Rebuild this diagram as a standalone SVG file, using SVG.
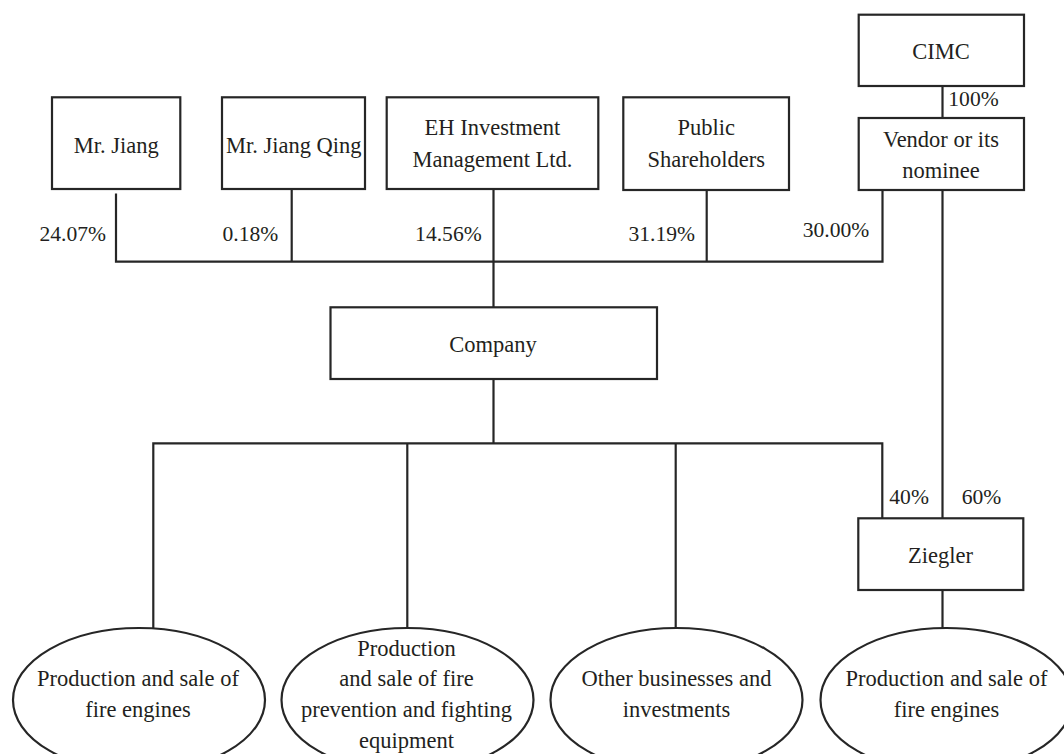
<svg xmlns="http://www.w3.org/2000/svg" width="1064" height="754" viewBox="0 0 1064 754">
<style>
.box{fill:#fff;stroke:#262626;stroke-width:2.2}
.ell{fill:#fff;stroke:#262626;stroke-width:2.2}
.ln{fill:none;stroke:#262626;stroke-width:2.2}
text{font-family:"Liberation Serif","Times New Roman",serif;fill:#231f20}
.lbl{font-size:22.5px;text-anchor:middle}
.pct{font-size:21.6px}
.end{text-anchor:end}
</style>
<rect width="1064" height="754" fill="#fff"/>
<g id="connectors">
<path class="ln" d="M116 193.5V261.7H882.5V190"/>
<path class="ln" d="M291.7 189V261.7"/>
<path class="ln" d="M493.5 189V307.5"/>
<path class="ln" d="M706.7 190V261.7"/>
<path class="ln" d="M942.5 86V118"/>
<path class="ln" d="M942.5 190V518.3"/>
<path class="ln" d="M493.5 379V443.3"/>
<path class="ln" d="M153.3 628.3V443.3H882.3V518.3"/>
<path class="ln" d="M407.3 443.3V628"/>
<path class="ln" d="M675.7 443.3V628"/>
<path class="ln" d="M942.5 590V628"/>
<text class="pct end" x="106" y="240.7">24.07%</text>
<text class="pct end" x="278.3" y="240.7">0.18%</text>
<text class="pct end" x="481.7" y="240.7">14.56%</text>
<text class="pct end" x="695" y="240.7">31.19%</text>
<text class="pct end" x="869.3" y="237.3">30.00%</text>
<text class="pct" x="948.3" y="106">100%</text>
<text class="pct" x="889.3" y="504">40%</text>
<text class="pct" x="961.7" y="504">60%</text>
</g>
<g id="mr-jiang">
<rect class="box" x="52" y="97.3" width="128.3" height="91.7"/>
<text class="lbl" x="116.3" y="152.7">Mr. Jiang</text>
</g>
<g id="mr-jiang-qing">
<rect class="box" x="222" y="97.3" width="143" height="91.7"/>
<text class="lbl" x="293.7" y="152.7">Mr. Jiang Qing</text>
</g>
<g id="eh-investment">
<rect class="box" x="386.7" y="97.3" width="211.6" height="91.7"/>
<text class="lbl" x="492.4" y="135">EH Investment</text>
<text class="lbl" x="492.4" y="166.7">Management Ltd.</text>
</g>
<g id="public-shareholders">
<rect class="box" x="623.3" y="97.3" width="165.7" height="92.7"/>
<text class="lbl" x="706.2" y="135">Public</text>
<text class="lbl" x="706.2" y="166.7">Shareholders</text>
</g>
<g id="cimc">
<rect class="box" x="858.7" y="14.7" width="165.3" height="71.3"/>
<text class="lbl" x="941" y="59.3">CIMC</text>
</g>
<g id="vendor">
<rect class="box" x="858.7" y="118" width="165.3" height="72"/>
<text class="lbl" x="941" y="146.7">Vendor or its</text>
<text class="lbl" x="941" y="177.7">nominee</text>
</g>
<g id="company">
<rect class="box" x="330.5" y="307.3" width="326.5" height="71.7"/>
<text class="lbl" x="493" y="351.7">Company</text>
</g>
<g id="ziegler">
<rect class="box" x="858.3" y="518.3" width="165" height="71.7"/>
<text class="lbl" x="940.5" y="562.7">Ziegler</text>
</g>
<g id="fire-engines-1">
<ellipse class="ell" cx="139" cy="700" rx="126" ry="72"/>
<text class="lbl" x="138" y="686">Production and sale of</text>
<text class="lbl" x="138" y="717">fire engines</text>
</g>
<g id="fire-prevention">
<ellipse class="ell" cx="407.5" cy="700" rx="126" ry="72"/>
<text class="lbl" x="406.5" y="655.5">Production</text>
<text class="lbl" x="406.5" y="686">and sale of fire</text>
<text class="lbl" x="406.5" y="717">prevention and fighting</text>
<text class="lbl" x="406.5" y="748">equipment</text>
</g>
<g id="other-businesses">
<ellipse class="ell" cx="676.5" cy="700" rx="126" ry="72"/>
<text class="lbl" x="676.5" y="686">Other businesses and</text>
<text class="lbl" x="676.5" y="717">investments</text>
</g>
<g id="fire-engines-2">
<ellipse class="ell" cx="946.5" cy="700" rx="126" ry="72"/>
<text class="lbl" x="946.5" y="686">Production and sale of</text>
<text class="lbl" x="946.5" y="717">fire engines</text>
</g>
</svg>
